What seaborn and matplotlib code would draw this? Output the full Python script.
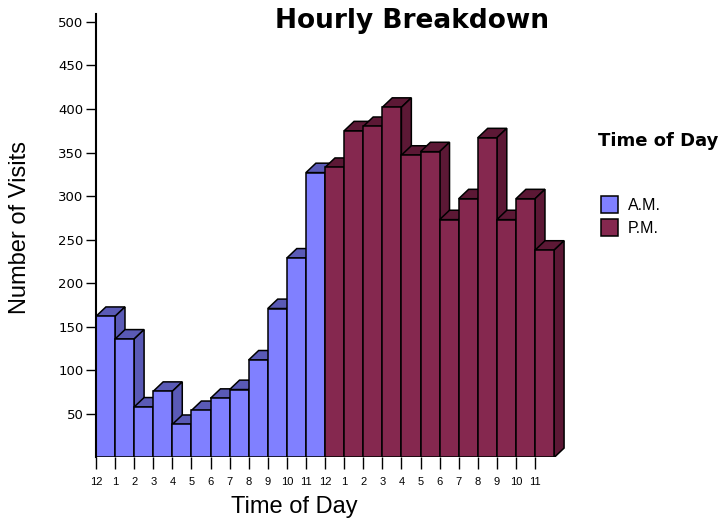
import numpy as np
import pandas as pd
import seaborn as sns
import matplotlib.pyplot as plt
from matplotlib.patches import Polygon, Patch

# --- data
hour_labels = ["12", "1", "2", "3", "4", "5", "6", "7", "8", "9", "10", "11"] * 2
am_visits = [162, 136, 58, 76, 38, 54, 68, 78, 112, 171, 229, 327]
pm_visits = [333, 375, 380, 402, 347, 351, 273, 297, 367, 273, 297, 238]
periods = ["A.M.", "P.M."]

front_colors = {"A.M.": "#8080ff", "P.M.": "#85284f"}
shade_colors = {"A.M.": "#5a5ab6", "P.M.": "#5c1835"}

df = pd.DataFrame(
    {
        "slot": range(len(hour_labels)),
        "visits": am_visits + pm_visits,
        "period": [periods[0]] * len(am_visits) + [periods[1]] * len(pm_visits),
    }
)

# --- setup
sns.set_style("ticks")
plt.rcParams["font.family"] = ["Liberation Sans", "DejaVu Sans"]
plt.rcParams["text.color"] = "black"
plt.rcParams["axes.labelcolor"] = "black"

fig = plt.figure(figsize=(7.26, 5.19), dpi=100)
ax = fig.add_axes([0.1322, 0.1185, 0.660, 0.8545])

sns.barplot(
    data=df,
    x="slot",
    y="visits",
    hue="period",
    palette=front_colors,
    dodge=False,
    width=1,
    saturation=1,
    edgecolor="black",
    linewidth=1.1,
    legend=False,
    ax=ax,
)

# --- fake 3d depth: top and side faces behind each front face
dx, dy = 0.52, 10.8
for p in ax.patches[:]:
    x0, w, h = p.get_x(), p.get_width(), p.get_height()
    i = int(round(x0 + w / 2))
    shade = shade_colors[df.loc[i, "period"]]
    p.set_zorder(3 + 2 * i + 1)
    top = Polygon(
        [(x0, h), (x0 + dx, h + dy), (x0 + w + dx, h + dy), (x0 + w, h)],
        closed=True, facecolor=shade, edgecolor="black", linewidth=1.1,
        zorder=3 + 2 * i,
    )
    side = Polygon(
        [(x0 + w, 0), (x0 + w + dx, dy), (x0 + w + dx, h + dy), (x0 + w, h)],
        closed=True, facecolor=shade, edgecolor="black", linewidth=1.1,
        zorder=3 + 2 * i,
    )
    ax.add_patch(top)
    ax.add_patch(side)

# --- axes
ax.set_xlim(-0.5, 24.6)
ax.set_ylim(0, 509)
ax.set_xticks(np.arange(len(hour_labels)) - 0.5, hour_labels)
ax.set_yticks(range(50, 501, 50))
ax.tick_params(axis="x", length=8.5, width=1, pad=5.5, labelsize=8, colors="black")
ax.tick_params(axis="y", length=7, width=1, pad=2, colors="black")
for lab in ax.get_yticklabels():
    lab.set_fontfamily("DejaVu Sans")
    lab.set_fontsize(9.5)
ax.set_xlabel("")
ax.set_ylabel("")
for s in ["top", "right", "bottom"]:
    ax.spines[s].set_visible(False)
ax.spines["left"].set_linewidth(1.5)
ax.spines["left"].set_color("black")
ax.spines["left"].set_zorder(100)

# --- text
fig.text(412 / 726, 1 - 21 / 519, "Hourly Breakdown", fontsize=19,
         fontweight="bold", family="DejaVu Sans", ha="center", va="center")
fig.text(294.5 / 726, 1 - 507 / 519, "Time of Day", fontsize=17,
         ha="center", va="center")
fig.text(20 / 726, 1 - 228 / 519, "Number of Visits", fontsize=17,
         rotation=90, ha="center", va="center")
fig.text(598 / 726, 1 - 141 / 519, "Time of Day", fontsize=13,
         fontweight="bold", family="DejaVu Sans", ha="left", va="center")

handles = [
    Patch(facecolor=front_colors[k], edgecolor="black", linewidth=1.1)
    for k in periods
]
fig.legend(
    handles,
    periods,
    loc="upper left",
    bbox_to_anchor=(601 / 726, 1 - 196 / 519),
    frameon=False,
    fontsize=11.5,
    handlelength=1.06,
    handleheight=1.25,
    handletextpad=0.6,
    labelspacing=0.4,
    borderpad=0,
    borderaxespad=0,
)

plt.savefig("out.png", dpi=100)
